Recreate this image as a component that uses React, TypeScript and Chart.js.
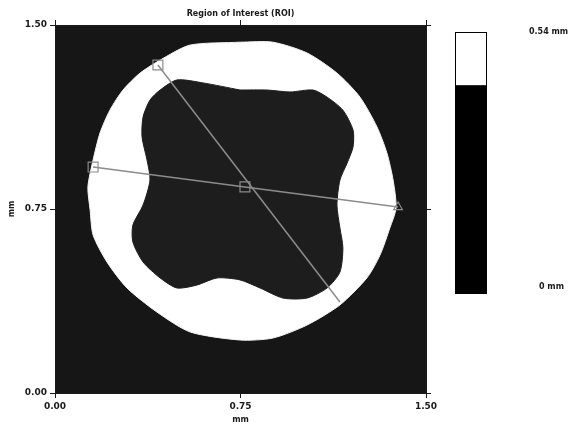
import React, { useEffect, useRef } from "react";
import { Chart, registerables } from "chart.js";

Chart.register(...registerables);

// Axis ticks (mm)
const X_TICKS = [0, 0.75, 1.5];
const Y_TICKS = [0, 0.75, 1.5];

// Outer boundary of the white ring (mm)
const OUTER_X = [0.748, 0.881, 1.019, 1.140, 1.233, 1.302, 1.342, 1.367, 1.379, 1.354, 1.314, 1.261, 1.152, 1.019, 0.881, 0.748, 0.546, 0.412, 0.291, 0.210, 0.154, 0.142, 0.133, 0.154, 0.182, 0.222, 0.275, 0.344, 0.425, 0.546];
const OUTER_Y = [1.430, 1.430, 1.386, 1.304, 1.206, 1.084, 0.978, 0.868, 0.754, 0.673, 0.562, 0.469, 0.359, 0.277, 0.224, 0.216, 0.249, 0.330, 0.428, 0.534, 0.644, 0.746, 0.840, 0.950, 1.060, 1.153, 1.235, 1.304, 1.357, 1.418];

// Inner (four-lobed) hole boundary (mm)
const INNER_X = [0.748, 0.857, 0.950, 1.043, 1.100, 1.164, 1.205, 1.205, 1.181, 1.152, 1.140, 1.152, 1.164, 1.152, 1.100, 1.019, 0.922, 0.829, 0.748, 0.655, 0.574, 0.493, 0.425, 0.356, 0.315, 0.315, 0.356, 0.384, 0.372, 0.352, 0.356, 0.384, 0.425, 0.493, 0.598];
const INNER_Y = [1.235, 1.235, 1.227, 1.235, 1.206, 1.153, 1.072, 1.003, 0.937, 0.868, 0.766, 0.673, 0.591, 0.493, 0.428, 0.387, 0.387, 0.428, 0.461, 0.469, 0.440, 0.428, 0.469, 0.534, 0.615, 0.685, 0.766, 0.868, 0.950, 1.043, 1.125, 1.194, 1.235, 1.276, 1.264];

// Profile lines (mm)
const PROFILE_A_X = [0.154, 0.768, 1.387];
const PROFILE_A_Y = [0.921, 0.840, 0.758];
const PROFILE_A_MARKERS = ["rect", "rect", "triangle"];
const PROFILE_B_X = [0.416, 1.152];
const PROFILE_B_Y = [1.337, 0.371];

// Colour bar
const COLORBAR_MAX = 0.54;
const COLORBAR_MIN = 0;
const COLORBAR_THRESHOLD = 0.43;
const COLORBAR_LABELS = ["0.54 mm", "0 mm"];

const TITLE = "Region of Interest (ROI)";
const AXIS_LABEL = "mm";

const zip = (xs: number[], ys: number[], close = false) => {
  const pts = xs.map((x, i) => ({ x, y: ys[i] }));
  if (close) pts.push({ ...pts[0] });
  return pts;
};

const FONT = "'DejaVu Sans', sans-serif";
const INK = "#1a1a1a";

export default function App() {
  const ref = useRef<HTMLCanvasElement | null>(null);

  useEffect(() => {
    document.body.style.margin = "0";
    const canvas = ref.current;
    if (!canvas) return;

    const bgPlugin = {
      id: "bg",
      beforeDraw(chart: any) {
        const { ctx, chartArea: a } = chart;
        ctx.save();
        ctx.fillStyle = "#ffffff";
        ctx.fillRect(0, 0, chart.width, chart.height);
        ctx.fillStyle = "#161616";
        ctx.fillRect(a.left, a.top, a.right - a.left, a.bottom - a.top);
        ctx.restore();
      },
      afterDraw(chart: any) {
        const { ctx, chartArea: a } = chart;
        ctx.save();
        ctx.strokeStyle = INK;
        ctx.lineWidth = 1;
        ctx.strokeRect(a.left + 0.5, a.top + 0.5, a.right - a.left, a.bottom - a.top);
        // colour bar
        const bx = 455, bw = 31, top = 32, bottom = 293;
        const span = COLORBAR_MAX - COLORBAR_MIN;
        const split = top + ((COLORBAR_MAX - COLORBAR_THRESHOLD) / span) * (bottom - top);
        ctx.fillStyle = "#ffffff";
        ctx.fillRect(bx, top, bw, split - top);
        ctx.fillStyle = "#000000";
        ctx.fillRect(bx, split, bw, bottom - split);
        ctx.strokeStyle = "#000";
        ctx.strokeRect(bx + 0.5, top + 0.5, bw, bottom - top);
        ctx.fillStyle = INK;
        ctx.font = `bold 8px ${FONT}`;
        ctx.textBaseline = "middle";
        ctx.textAlign = "left";
        ctx.fillText(COLORBAR_LABELS[0], 529, 32);
        ctx.fillText(COLORBAR_LABELS[1], 539, 287);
        ctx.restore();
      },
    };

    const tickFont = { family: FONT, size: 9, weight: "bold" as const };

    const chart = new Chart(canvas, {
      type: "line",
      data: {
        datasets: [
          {
            label: "ring",
            data: zip(OUTER_X, OUTER_Y, true),
            borderColor: "#f4f4f4",
            borderWidth: 1,
            backgroundColor: "#ffffff",
            fill: "shape",
            pointRadius: 0,
            tension: 0.25,
            order: 4,
          },
          {
            label: "hole",
            data: zip(INNER_X, INNER_Y, true),
            borderColor: "#1d1d1d",
            borderWidth: 1,
            backgroundColor: "#1d1d1d",
            fill: "shape",
            pointRadius: 0,
            tension: 0.25,
            order: 3,
          },
          {
            label: "profile A",
            data: zip(PROFILE_A_X, PROFILE_A_Y),
            borderColor: "#8c8c8c",
            borderWidth: 1.5,
            backgroundColor: "rgba(0,0,0,0)",
            pointStyle: PROFILE_A_MARKERS as any,
            pointRadius: [7, 7, 5],
            pointBorderColor: "#8c8c8c",
            pointBorderWidth: 1.2,
            fill: false,
            tension: 0,
            order: 2,
          },
          {
            label: "profile B",
            data: zip(PROFILE_B_X, PROFILE_B_Y),
            borderColor: "#8c8c8c",
            borderWidth: 1.5,
            backgroundColor: "rgba(0,0,0,0)",
            pointStyle: "rect",
            pointRadius: [7, 0],
            pointBorderColor: "#8c8c8c",
            pointBorderWidth: 1.2,
            fill: false,
            tension: 0,
            order: 1,
          },
        ],
      },
      options: {
        responsive: false,
        animation: false,
        layout: { padding: { left: 0, right: 145, top: 0, bottom: 0 } },
        plugins: {
          legend: { display: false },
          tooltip: { enabled: false },
          title: {
            display: true,
            text: TITLE,
            fullSize: false,
            color: INK,
            font: { family: FONT, size: 8, weight: "bold" },
            padding: { top: 9, bottom: 1.4 },
          },
        },
        scales: {
          x: {
            type: "linear",
            position: "bottom",
            min: 0,
            max: 1.5,
            afterBuildTicks: (s: any) => { s.ticks = X_TICKS.map((v) => ({ value: v })); },
            afterFit: (s: any) => { s.height = 38; },
            ticks: { color: INK, font: tickFont, padding: 3, maxRotation: 0, callback: (v: any) => Number(v).toFixed(2) },
            grid: { drawOnChartArea: false, drawTicks: true, tickLength: 5, color: INK },
            border: { display: true, color: INK },
            title: { display: true, text: AXIS_LABEL, color: INK, font: { family: FONT, size: 8, weight: "bold" }, padding: { top: 0, bottom: 6 } },
          },
          y: {
            type: "linear",
            position: "left",
            min: 0,
            max: 1.5,
            afterBuildTicks: (s: any) => { s.ticks = Y_TICKS.map((v) => ({ value: v })); },
            afterFit: (s: any) => { s.width = 55; },
            ticks: { color: INK, font: tickFont, padding: 3, callback: (v: any) => Number(v).toFixed(2) },
            grid: { drawOnChartArea: false, drawTicks: true, tickLength: 5, color: INK },
            border: { display: true, color: INK },
            title: { display: true, text: AXIS_LABEL, color: INK, font: { family: FONT, size: 8, weight: "bold" }, padding: { top: 7, bottom: 0 } },
          },
          x2: {
            type: "linear",
            position: "top",
            min: 0,
            max: 1.5,
            afterBuildTicks: (s: any) => { s.ticks = X_TICKS.map((v) => ({ value: v })); },
            afterFit: (s: any) => { s.height = 5; },
            ticks: { display: false },
            grid: { drawOnChartArea: false, drawTicks: true, tickLength: 5, color: INK },
            border: { display: true, color: INK },
          },
          y2: {
            type: "linear",
            position: "right",
            min: 0,
            max: 1.5,
            afterBuildTicks: (s: any) => { s.ticks = Y_TICKS.map((v) => ({ value: v })); },
            afterFit: (s: any) => { s.width = 5; },
            ticks: { display: false },
            grid: { drawOnChartArea: false, drawTicks: true, tickLength: 5, color: INK },
            border: { display: true, color: INK },
          },
        },
      },
      plugins: [bgPlugin],
    } as any);

    return () => chart.destroy();
  }, []);

  return (
    <div style={{ width: 576, height: 431, background: "#fff" }}>
      <canvas ref={ref} width={576} height={431} style={{ display: "block" }} />
    </div>
  );
}
